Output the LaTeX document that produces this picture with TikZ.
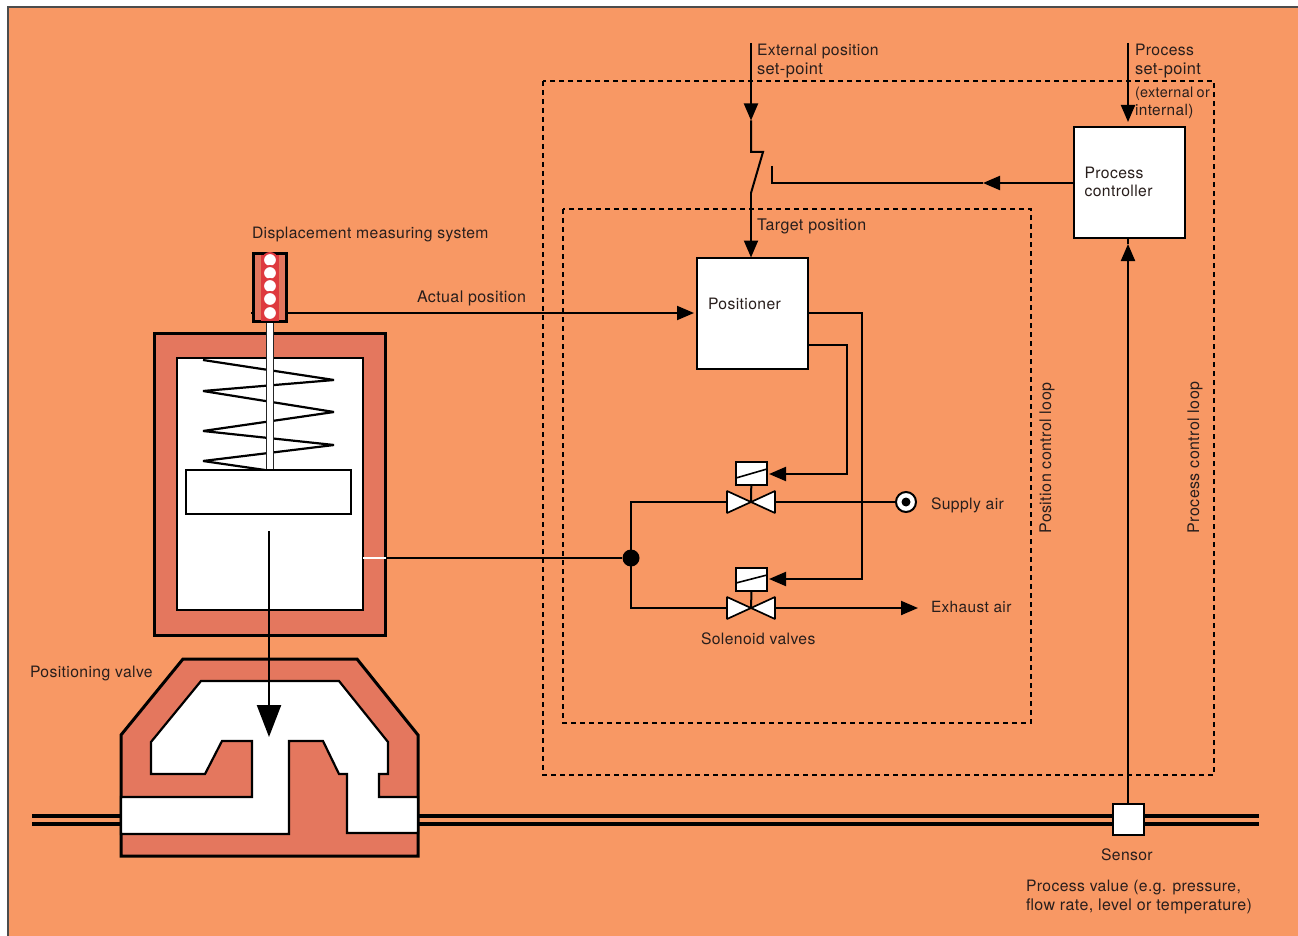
\documentclass[tikz,border=0pt]{standalone}
\usepackage{fontspec}
\setmainfont[LetterSpace=2.5]{TeX Gyre Heros}
\usetikzlibrary{arrows.meta}
\definecolor{bgor}{RGB}{248,152,100}
\definecolor{salm}{RGB}{228,119,94}
\definecolor{redd}{RGB}{222,58,62}
\definecolor{txt}{RGB}{40,30,28}
\newcommand{\fsA}{\fontsize{15.7}{19}\selectfont}
\newcommand{\fsB}{\fontsize{16}{19}\selectfont}
\newcommand{\fsC}{\fontsize{16.4}{19}\selectfont}
\tikzset{
  x=1pt,y=-1pt,
  wire/.style={draw=black,line width=2pt,line join=miter},
  flow/.style={wire,-{Triangle[length=17pt,width=14pt]}},
  wall/.style={draw=black,line width=3pt,fill=salm,line join=miter},
  cavity/.style={draw=black,line width=2.6pt,fill=white,line join=miter},
  boxn/.style={draw=black,line width=2pt,fill=white,inner sep=0pt,outer sep=0pt,minimum width=111pt,minimum height=111pt},
  sol/.style={draw=black,line width=2pt,fill=white,inner sep=0pt,outer sep=0pt,minimum width=31pt,minimum height=23pt},
  vtri/.style={draw=black,line width=1.7pt,fill=white,line join=bevel},
  loop/.style={draw=black,line width=1.7pt,dash pattern=on 5pt off 4pt},
  lblbase/.style={inner sep=0pt,outer sep=0pt,text=txt,font=\fsA,align=left},
  lbl/.style={lblbase,anchor=north west,yshift=-3pt},
  lblrot/.style={lblbase,font=\fsB,rotate=90,anchor=center},
  pipe/.style={draw=black,line width=3.6pt},
  dotw/.style={circle,draw=redd,line width=2pt,fill=white,minimum size=14pt,inner sep=0pt},
}
\begin{document}
\begin{tikzpicture}
\useasboundingbox (0,0) rectangle (1298,936);
\fill[white] (0,0) rectangle (1298,936);
\fill[bgor] (8,7) rectangle (1298,936);
\draw[draw=black!70,line width=1.6pt] (8,936) -- (8,7) -- (1298,7);

% process pipe
\draw[pipe] (32,816) -- (1259,816);
\draw[pipe] (32,824) -- (1259,824);

% dashed loops
\draw[loop] (543,81) rectangle (1214,775);
\draw[loop] (563,209) rectangle (1031,723);

% actual position signal (passes behind the measuring system)
\coordinate (a1) at (251,313);
\coordinate (a2) at (694,313);
\draw[flow] (a1) -- (a2);

% actuator
\draw[wall] (154,333.5) rectangle (385.5,635);
\draw[cavity] (177,358) rectangle (363,610);
\draw[draw=black,line width=2.2pt,line join=bevel] (203,360) -- (334,380) -- (203,391) -- (334,412) -- (203,431) -- (334,445) -- (203,461) -- (265,470);
\node[draw=black,line width=2.2pt,fill=white,minimum width=165pt,minimum height=44pt,inner sep=0pt,outer sep=0pt] (piston) at (268.5,492) {};
\fill[white] (266,322) rectangle (273.5,469);
\draw[black!85,line width=1pt] (266,322) -- (266,469) (273.5,322) -- (273.5,469);

% displacement measuring system
\node[draw=black,line width=2.4pt,fill=salm,minimum width=33pt,minimum height=68pt,inner sep=0pt,outer sep=0pt] (dms) at (270,287.5) {};
\fill[redd] (261,255) rectangle (279,320.5);
\foreach \n/\y in {a/260,b/273,c/286,d/299,e/313}{\node[dotw] (dot\n) at (270,\y) {};}

% positioning valve
\draw[wall] (121,735) -- (183,659) -- (357,659) -- (418,735) -- (418,856) -- (121,856) -- cycle;
\draw[cavity,line width=2.2pt] (151,742) -- (201,681) -- (339,681) -- (388,742) -- (388,774) -- (379,774) -- (379,797) -- (418,797) -- (418,833) -- (347,833) -- (347,774) -- (339,774) -- (323,741) -- (289,741) -- (289,834) -- (121,834) -- (121,797) -- (252,797) -- (252,741) -- (222,741) -- (205,774) -- (151,774) -- cycle;
\coordinate (stemtop) at (269,531);
\coordinate (stemtip) at (269,737);
\draw[wire,line width=2.4pt,-{Triangle[length=32pt,width=24pt]}] (stemtop) -- (stemtip);

% control boxes
\node[boxn] (pc) at (1129.5,182.5) {};
\node[boxn] (pos) at (752.5,313.5) {};
\node[boxn,minimum width=31pt,minimum height=31pt] (sensor) at (1128.5,819.5) {};

% solenoid valves
\node[sol] (solu) at (751.5,473.5) {};
\node[sol] (sold) at (751.5,579.5) {};
\draw[wire,line width=1.6pt] (solu.south west)++(0,-7) -- ++(31,-9);
\draw[wire,line width=1.6pt] (sold.south west)++(0,-8) -- ++(31,-8);
\coordinate (vu) at (751,502);
\coordinate (vd) at (751,608);
\draw[wire] (solu) -- (vu);
\draw[wire] (sold.south) -- (vd);
\draw[vtri] (vu) -- (727,491) -- (727,513) -- cycle;
\draw[vtri] (vu) -- (775,491) -- (775,513) -- cycle;
\draw[vtri] (vd) -- (727,597) -- (727,619) -- cycle;
\draw[vtri] (vd) -- (775,597) -- (775,619) -- cycle;

% junction and supply port
\node[circle,fill=black,inner sep=0pt,minimum size=17pt] (jn) at (631,558) {};
\node[circle,draw=black,line width=2pt,fill=white,inner sep=0pt,minimum size=20pt] (sup) at (906,502) {};
\node[circle,fill=black,inner sep=0pt,minimum size=9pt] (supdot) at (906,502) {};

% air connectors
\coordinate (cylport) at (363,558);
\coordinate (wallout) at (386,558);
\coordinate (ju) at (631,502);
\coordinate (jd) at (631,608);
\coordinate (vur) at (775,502);
\coordinate (vul) at (727,502);
\coordinate (vdr) at (775,608);
\coordinate (vdl) at (727,608);
\coordinate (exh) at (918,608);
\draw[white,line width=1.6pt] (cylport) -- (wallout);
\draw[wire,line width=1.6pt] (wallout) -- (jn);
\draw[wire] (vul) -- (ju) -- (jd) -- (vdl);
\draw[wire] (vur) -- (sup);
\draw[flow] (vdr) -- (exh);

% signal connectors
\coordinate (p1) at (808,313);
\coordinate (p1b) at (862,313);
\coordinate (p1c) at (862,579);
\coordinate (p1d) at (769,579);
\draw[flow] (p1) -- (p1b) -- (p1c) -- (p1d);
\coordinate (p2) at (808,345);
\coordinate (p2b) at (847,345);
\coordinate (p2c) at (847,474);
\coordinate (p2d) at (769,474);
\draw[flow] (p2) -- (p2b) -- (p2c) -- (p2d);

% set-point and switch
\coordinate (e0) at (751,43);
\coordinate (e1) at (751,120.5);
\coordinate (e2) at (751,152);
\coordinate (e3) at (763,152);
\coordinate (e4) at (751,193);
\coordinate (e5) at (751,257.5);
\draw[flow] (e0) -- (e1);
\draw[wire] (e1) -- (e2) -- (e3) -- (e4);
\draw[flow] (e4) -- (e5);
\coordinate (c1) at (772,166);
\coordinate (c2) at (772,183);
\coordinate (c3) at (983,183);
\draw[wire] (c1) -- (c2) -- (c3);
\draw[flow] (pc.west |- c3) -- (c3);
\coordinate (s0) at (1128,43);
\coordinate (s1) at (1128,122);
\draw[flow] (s0) -- (s1);
\coordinate (s2) at (1128,244);
\draw[flow] (sensor.north -| s2) -- (s2);
\draw[wire] (s2) -- (pc.south -| s2);

% labels
\node[lbl] (t1) at (252,224) {Displacement measuring system};
\node[lbl,font=\fsB] (t2) at (417,288) {Actual position};
\node[lbl] (t3) at (30,663) {Positioning valve};
\node[lbl] (t4) at (757,41) {External position\\\fsC set-point};
\node[lbl] (t5) at (1135,41) {Process\\\fsC set-point};
\node[lbl,font=\fontsize{14.4}{18}\selectfont] (t6) at (1135,84) {(external\hspace{-1pt} or\\\fontsize{15.4}{18}\selectfont internal)};
\node[lbl,font=\fontsize{15.7}{18}\selectfont] (t7) at (1084.5,164) {Process\\controller};
\node[lbl,font=\fsB] (t8) at (757,216) {Target position};
\node[lbl] (t9) at (708,295) {Positioner};
\node[lbl] (t10) at (931,495) {Supply air};
\node[lbl,font=\fontsize{15.4}{19}\selectfont] (t11) at (931,598) {Exhaust air};
\node[lbl] (t12) at (701,630) {Solenoid valves};
\node[lbl] (t13) at (1101,846) {Sensor};
\node[lbl,font=\fsA] (t14) at (1026,877) {Process value (e.g. pressure,\\\fsB flow rate, level or temperature)};
\node[lblrot] (t15) at (1047,458) {Position control loop};
\node[lblrot] (t16) at (1195,457.5) {Process control loop};
\end{tikzpicture}
\end{document}
